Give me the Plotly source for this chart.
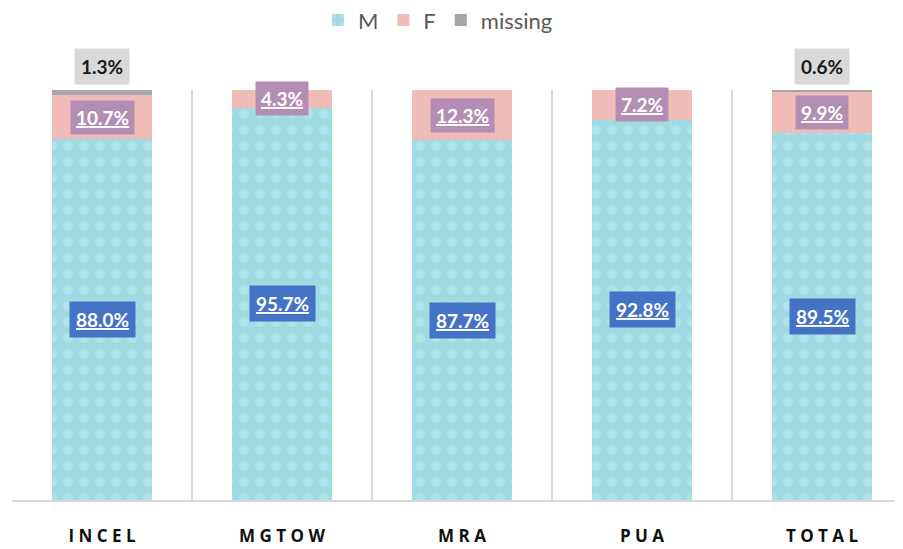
import plotly.graph_objects as go

categories = ["INCEL", "MGTOW", "MRA", "PUA", "TOTAL"]
m_values = [88.0, 95.7, 87.7, 92.8, 89.5]
f_values = [10.7, 4.3, 12.3, 7.2, 9.9]
missing_values = [1.3, 0.0, 0.0, 0.0, 0.6]

x = list(range(len(categories)))
tick_text = [" ".join(c) for c in categories]

fig = go.Figure()
fig.add_trace(go.Bar(name="M", x=x, y=m_values, marker=dict(color="#A4DDE6", line=dict(width=0),
                     pattern=dict(shape=".", fgcolor="#BDE9EF", bgcolor="#A0DAE3", size=16, solidity=0.3))))
fig.add_trace(go.Bar(name="F", x=x, y=f_values, marker=dict(color="#EFBCB8", line=dict(width=0))))
fig.add_trace(go.Bar(name="missing", x=x, y=missing_values, marker=dict(color="#A6A6A6", line=dict(width=0))))

annotations = []
for i in x:
    m, f, ms = m_values[i], f_values[i], missing_values[i]
    annotations.append(dict(x=i, y=m / 2, text=f"<u>{m:.1f}%</u>", showarrow=False,
                            font=dict(family="Lato", size=19, color="white", weight="bold"),
                            bgcolor="#4472C4", borderpad=6))
    annotations.append(dict(x=i, y=m + f / 2, text=f"<u>{f:.1f}%</u>", showarrow=False,
                            font=dict(family="Lato", size=19, color="white", weight="bold"),
                            bgcolor="#B48DB5", borderpad=5))
    if ms > 0:
        annotations.append(dict(x=i, y=m + f + ms, text=f"{ms:.1f}%", showarrow=False,
                                yanchor="bottom", yshift=5,
                                font=dict(family="Lato", size=19, color="#1a1a1a", weight="bold"),
                                bgcolor="#D9D9D9", borderpad=6))

fig.update_layout(
    barmode="stack",
    bargap=0.44,
    width=895, height=541,
    margin=dict(l=4, r=0, t=82, b=49, autoexpand=False),
    paper_bgcolor="white", plot_bgcolor="white",
    showlegend=True,
    legend=dict(orientation="h", x=0.478, xanchor="center", y=1.17, yanchor="middle",
                font=dict(family="Lato", size=22, color="#595959"), itemwidth=30,
                traceorder="normal"),
    annotations=annotations,
    xaxis=dict(range=[-0.5, 4.45], tickvals=x, ticktext=tick_text, showgrid=False,
               tickfont=dict(family="Open Sans", size=17, color="#111111", weight="bold"),
               ticks="", ticklabelstandoff=20, automargin=False,
               showline=True, linecolor="#D9D9D9", linewidth=2,
               minor=dict(tickvals=[-0.5, 0.5, 1.5, 2.5, 3.5, 4.5], showgrid=True,
                          gridcolor="#D9D9D9", gridwidth=2, ticks="")),
    yaxis=dict(range=[0, 100], showgrid=False, showticklabels=False, zeroline=False, automargin=False),
)
for a in fig.layout.annotations:
    a.update(xref="x", yref="y")

fig.write_html("out.html")
